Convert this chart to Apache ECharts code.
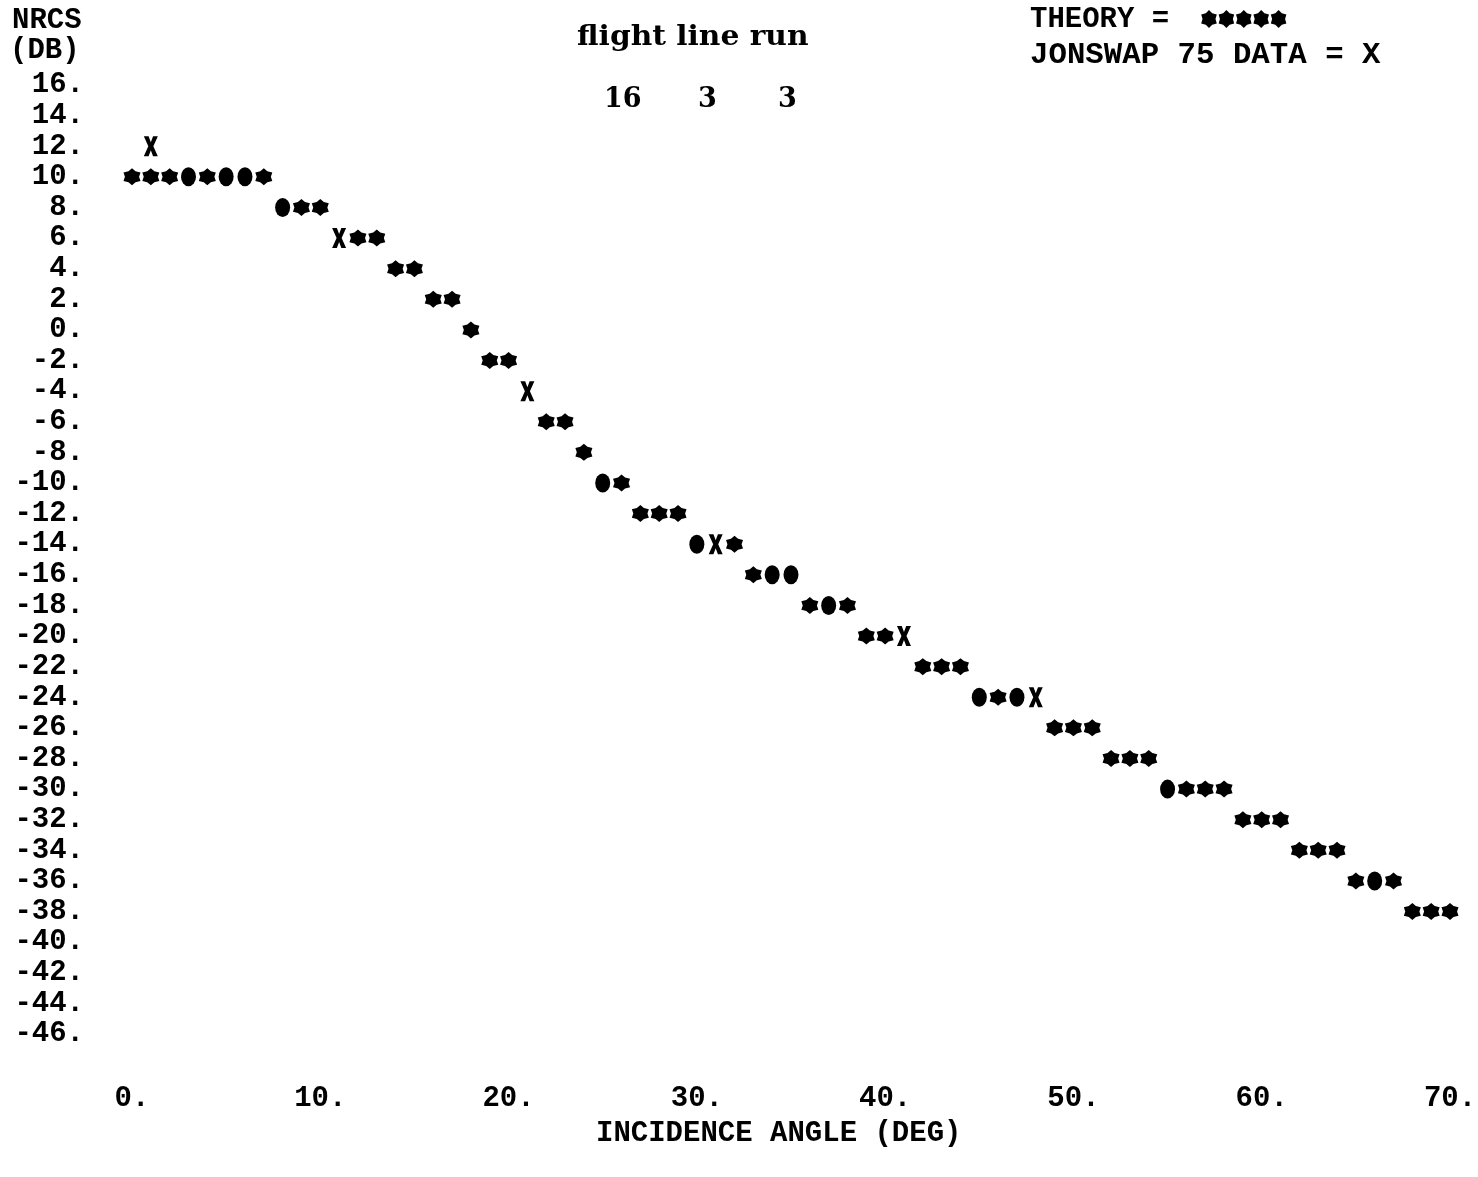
<!DOCTYPE html>
<html>
<head>
<meta charset="utf-8">
<script src="https://cdn.jsdelivr.net/npm/echarts@6/dist/echarts.min.js"></script>
<style>
html,body{margin:0;padding:0;background:#fff;}
#chart{width:1478px;height:1177px;}
</style>
</head>
<body>
<div id="chart"></div>
<script>
// Tick labels
var xTicks = [0, 10, 20, 30, 40, 50, 60, 70];
var yTicks = [16, 14, 12, 10, 8, 6, 4, 2, 0, -2, -4, -6, -8, -10, -12, -14, -16, -18, -20, -22, -24, -26, -28, -30, -32, -34, -36, -38, -40, -42, -44, -46];

// THEORY = * : [incidence angle (deg), NRCS (dB)]
var theoryPts = [
  [0,10],[1,10],[2,10],[4,10],[7,10],
  [9,8],[10,8],
  [12,6],[13,6],
  [14,4],[15,4],
  [16,2],[17,2],
  [18,0],
  [19,-2],[20,-2],
  [22,-6],[23,-6],
  [24,-8],
  [26,-10],
  [27,-12],[28,-12],[29,-12],
  [32,-14],
  [33,-16],
  [36,-18],[38,-18],
  [39,-20],[40,-20],
  [42,-22],[43,-22],[44,-22],
  [46,-24],
  [49,-26],[50,-26],[51,-26],
  [52,-28],[53,-28],[54,-28],
  [56,-30],[57,-30],[58,-30],
  [59,-32],[60,-32],[61,-32],
  [62,-34],[63,-34],[64,-34],
  [65,-36],[67,-36],
  [68,-38],[69,-38],[70,-38]
];

// JONSWAP 75 DATA = X
var dataPts = [[1,12],[11,6],[21,-4],[31,-14],[41,-20],[48,-24]];

// Overprinted positions (theory and data coincide) = O
var bothPts = [
  [3,10],[5,10],[6,10],[8,8],[25,-10],[30,-14],[34,-16],[35,-16],
  [37,-18],[45,-24],[47,-24],[55,-30],[66,-36]
];

var STAR_PTS = [[50,0],[68,17.5],[93.3,25],[86,50],[93.3,75],[68,82.5],[50,100],[32,82.5],[6.7,75],[14,50],[6.7,25],[32,17.5]];
var STAR = 'path://M' + STAR_PTS.map(function (p) { return p[0] + ' ' + p[1]; }).join('L') + 'Z';
var XMARK = 'path://M0 0L34 0L50 30L66 0L100 0L68 50L100 100L66 100L50 70L34 100L0 100L32 50Z';
var OVAL = 'path://M50 0A50 50 0 1 1 50 100A50 50 0 1 1 50 0Z';

var printFont = 'Liberation Mono';
var labelFont = {color: '#000', fontFamily: printFont, fontWeight: 'bold', fontSize: 29};

// legend key: five theory stars after "THEORY ="
var legendStars = [];
for (var i = 0; i < 5; i++) {
  (function (ox) {
    legendStars.push({
      type: 'polygon', silent: true,
      shape: {points: STAR_PTS.map(function (p) { return [ox + p[0] * 0.18, 10 + p[1] * 0.18]; })},
      style: {fill: '#000'}
    });
  })(1200 + i * 17.4);
}

var chart = echarts.init(document.getElementById('chart'), null, {renderer: 'canvas'});
chart.setOption({
  backgroundColor: '#fff',
  animation: false,
  grid: {left: 132, right: 28, top: 85, bottom: 143, containLabel: false, outerBoundsMode: 'none'},
  xAxis: {
    type: 'value', min: 0, max: 70, interval: 10,
    axisLine: {show: false}, axisTick: {show: false}, splitLine: {show: false},
    axisLabel: Object.assign({
      margin: 50,
      formatter: function (v) { return xTicks.indexOf(v) >= 0 ? v + '.' : ''; }
    }, labelFont)
  },
  yAxis: {
    type: 'value', min: -46, max: 16, interval: 2,
    axisLine: {show: false}, axisTick: {show: false}, splitLine: {show: false},
    axisLabel: Object.assign({
      margin: 48,
      formatter: function (v) { return yTicks.indexOf(v) >= 0 ? v + '.' : ''; }
    }, labelFont)
  },
  graphic: [
    {type: 'text', x: 12, y: 6, style: {text: 'NRCS', font: 'bold 29px "' + printFont + '"', fill: '#000'}},
    {type: 'text', x: 10, y: 36, style: {text: '(DB)', font: 'bold 29px "' + printFont + '"', fill: '#000'}},
    {type: 'text', x: 577, y: 24, scaleX: 1.1, style: {text: 'flight line run', font: 'bold 27px "DejaVu Serif"', fill: '#000'}},
    {type: 'text', x: 604, y: 86, style: {text: '16', font: 'bold 27px "DejaVu Serif"', fill: '#000'}},
    {type: 'text', x: 698, y: 86, style: {text: '3', font: 'bold 27px "DejaVu Serif"', fill: '#000'}},
    {type: 'text', x: 778, y: 86, style: {text: '3', font: 'bold 27px "DejaVu Serif"', fill: '#000'}},
    {type: 'text', x: 1030, y: 5, style: {text: 'THEORY =', font: 'bold 29px "' + printFont + '"', fill: '#000'}},
    {type: 'group', children: legendStars},
    {type: 'text', x: 1030, y: 41, scaleX: 1.06, style: {text: 'JONSWAP 75 DATA = X', font: 'bold 29px "' + printFont + '"', fill: '#000'}},
    {type: 'text', x: 596, y: 1119, style: {text: 'INCIDENCE ANGLE (DEG)', font: 'bold 29px "' + printFont + '"', fill: '#000'}}
  ],
  series: [
    {name: 'THEORY', type: 'scatter', data: theoryPts, symbol: STAR, symbolSize: [17, 17], itemStyle: {color: '#000', opacity: 1}},
    {name: 'JONSWAP 75 DATA', type: 'scatter', data: dataPts, symbol: XMARK, symbolSize: [14, 20], itemStyle: {color: '#000', opacity: 1}},
    {name: 'THEORY + DATA', type: 'scatter', data: bothPts, symbol: OVAL, symbolSize: [15, 19], itemStyle: {color: '#000', opacity: 1}}
  ]
});
</script>
</body>
</html>
